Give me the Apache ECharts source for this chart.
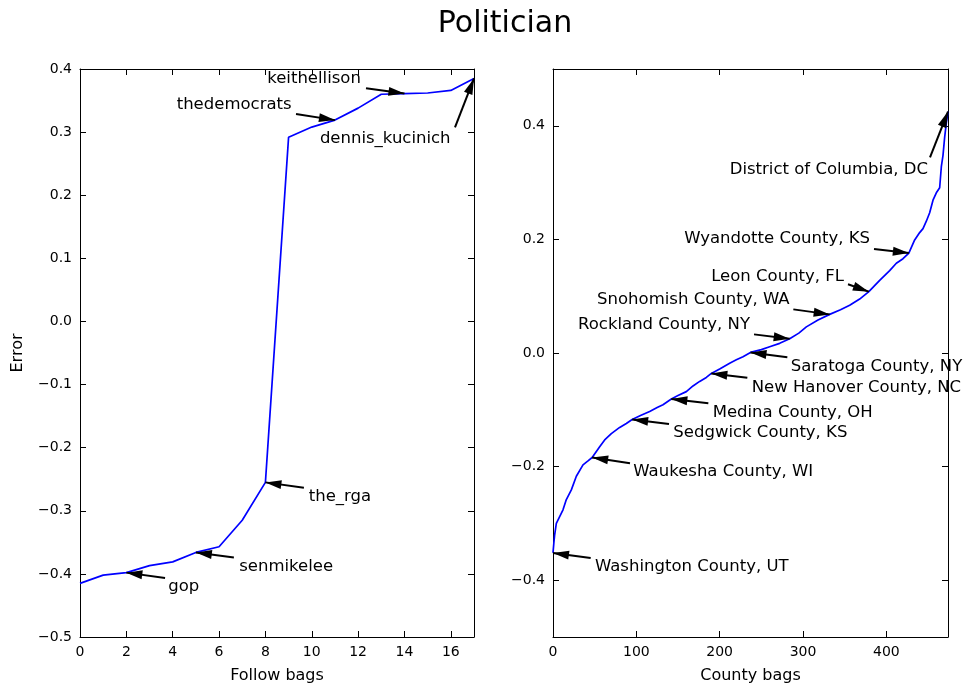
<!DOCTYPE html>
<html>
<head>
<meta charset="utf-8">
<script src="https://cdn.jsdelivr.net/npm/echarts@6/dist/echarts.min.js"></script>
<style>
  html, body { margin: 0; padding: 0; background: #fff; }
  #chart { width: 967px; height: 689px; }
</style>
</head>
<body>
<div id="chart"></div>
<script>
// Error per "follow" bag (left panel), one value per bag index
const followBags = [0, 1, 2, 3, 4, 5, 6, 7, 8, 9, 10, 11, 12, 13, 14, 15, 16, 17];
const followError = [-0.415, -0.402, -0.398, -0.387, -0.381, -0.366, -0.357, -0.315, -0.255,
                     0.292, 0.308, 0.319, 0.338, 0.360, 0.361, 0.362, 0.366, 0.385];

// Error per county bag (right panel), sorted by error
const countyRank = [0, 1, 2, 4, 8, 12, 16, 22, 28, 36, 42, 47, 56, 62, 70, 80, 88, 95, 105, 116,
                    125, 132, 142, 150, 160, 168, 176, 184, 190, 200, 212, 220, 228, 237, 250,
                    260, 272, 284, 295, 304, 318, 332, 345, 356, 368, 379, 392, 404, 412, 420,
                    427, 434, 440, 444, 448, 452, 456, 460, 464, 466, 468, 470, 472, 474];
const countyError = [-0.352, -0.335, -0.320, -0.300, -0.288, -0.276, -0.258, -0.241, -0.217,
                     -0.197, -0.190, -0.184, -0.165, -0.153, -0.142, -0.131, -0.124, -0.117,
                     -0.110, -0.103, -0.096, -0.091, -0.081, -0.075, -0.068, -0.058, -0.050,
                     -0.043, -0.036, -0.028, -0.018, -0.012, -0.0065, 0.001, 0.006, 0.011,
                     0.017, 0.025, 0.035, 0.046, 0.058, 0.068, 0.076, 0.084, 0.095, 0.108,
                     0.128, 0.145, 0.158, 0.166, 0.176, 0.199, 0.212, 0.219, 0.232, 0.247,
                     0.269, 0.282, 0.291, 0.328, 0.348, 0.380, 0.405, 0.425];

// Annotated accounts (left) and counties (right), with the index they point at
const followNames = ['gop', 'senmikelee', 'the_rga', 'thedemocrats', 'keithellison', 'dennis_kucinich'];
const followNameIndex = [2, 5, 8, 11, 14, 17];
const countyNames = ['Washington County, UT', 'Waukesha County, WI', 'Sedgwick County, KS',
                     'Medina County, OH', 'New Hanover County, NC', 'Saratoga County, NY',
                     'Rockland County, NY', 'Snohomish County, WA', 'Leon County, FL',
                     'Wyandotte County, KS', 'District of Columbia, DC'];
const countyNameRank = [0, 47, 95, 142, 190, 237, 284, 332, 379, 427, 474];

// Axis tick values
const followXTicks = [0, 2, 4, 6, 8, 10, 12, 14, 16];
const followYTicks = [-0.5, -0.4, -0.3, -0.2, -0.1, 0.0, 0.1, 0.2, 0.3, 0.4];
const countyXTicks = [0, 100, 200, 300, 400];
const countyYTicks = [-0.4, -0.2, 0.0, 0.2, 0.4];

// Placement of each annotation text and arrow tail, in data units
const followNoteLayout = [
  { text: [3.81, -0.421], tail: [3.67, -0.4065], align: 'left' },
  { text: [6.87, -0.388], tail: [6.64, -0.374], align: 'left' },
  { text: [9.87, -0.278], tail: [9.66, -0.2636], align: 'left' },
  { text: [9.13, 0.3433], tail: [9.32, 0.3287], align: 'right' },
  { text: [12.12, 0.3843], tail: [12.34, 0.3696], align: 'right' },
  { text: [10.35, 0.2897], tail: [16.18, 0.3076], align: 'left' }
];
const countyNoteLayout = [
  { text: [50.4, -0.3757], tail: [45.2, -0.361], align: 'left' },
  { text: [96.4, -0.2087], tail: [92.4, -0.194], align: 'left' },
  { text: [144.4, -0.140], tail: [139.2, -0.1248], align: 'left' },
  { text: [191.6, -0.1043], tail: [186.4, -0.0885], align: 'left' },
  { text: [238.4, -0.0604], tail: [233.2, -0.0434], align: 'left' },
  { text: [285.2, -0.024], tail: [281.2, -0.0076], align: 'left' },
  { text: [236.4, 0.0492], tail: [241.2, 0.0328], align: 'right' },
  { text: [283.9, 0.093], tail: [288.4, 0.0768], align: 'right' },
  { text: [349.2, 0.1336], tail: [354.0, 0.121], align: 'right' },
  { text: [380.4, 0.2004], tail: [385.2, 0.183], align: 'right' },
  { text: [450.0, 0.3235], tail: [452.4, 0.3446], align: 'right' }
];

const FONT = 'DejaVu Sans';
const fmt = v => v.toFixed(1).replace('-', '\u2212');
const HEAD = [9, 16];

function valueAxis(opts) {
  const base = {
    type: 'value',
    gridIndex: opts.grid,
    position: opts.position,
    min: opts.min,
    max: opts.max,
    axisLine: { show: true, onZero: false, lineStyle: { color: '#000', width: 1 } },
    axisTick: { show: true, inside: true, length: 6, lineStyle: { color: '#000', width: 1 },
                customValues: opts.ticks },
    splitLine: { show: false },
    axisLabel: {
      show: !!opts.labels,
      color: '#000',
      fontFamily: FONT,
      fontSize: 14,
      margin: 8,
      customValues: opts.ticks,
      formatter: opts.formatter || (v => String(v))
    }
  };
  if (opts.name) {
    base.name = opts.name;
    base.nameLocation = 'middle';
    base.nameGap = opts.nameGap;
    base.nameTextStyle = { color: '#000', fontFamily: FONT, fontSize: 16 };
  }
  return base;
}

function notes(names, tips, layout) {
  const lines = [];
  const texts = [];
  names.forEach((name, i) => {
    const L = layout[i];
    lines.push([{ coord: L.tail }, { coord: tips[i] }]);
    texts.push({
      coord: L.text,
      symbolSize: 0,
      label: {
        show: true,
        formatter: name,
        position: 'inside',
        align: L.align,
        verticalAlign: 'middle',
        color: '#000',
        fontFamily: FONT,
        fontSize: 16.5
      }
    });
  });
  return {
    markLine: {
      silent: true,
      symbol: ['none', 'triangle'],
      symbolSize: HEAD,
      symbolOffset: [0, [0, HEAD[1] / 2]],
      lineStyle: { color: '#000', width: 2, type: 'solid' },
      label: { show: false },
      data: lines
    },
    markPoint: { silent: true, symbol: 'circle', symbolSize: 0, data: texts }
  };
}

const followTips = followNameIndex.map(i => [followBags[i], followError[i]]);
const countyTips = countyNameRank.map(r => {
  const k = countyRank.indexOf(r);
  return [countyRank[k], countyError[k]];
});

const chart = echarts.init(document.getElementById('chart'), null, { renderer: 'canvas' });

chart.setOption({
  animation: false,
  backgroundColor: '#fff',
  title: {
    text: 'Politician',
    left: 500,
    top: 4,
    textAlign: 'center',
    textStyle: { color: '#000', fontFamily: FONT, fontSize: 30, fontWeight: 'normal' }
  },
  grid: [
    { left: 80, top: 69, width: 394, height: 571 },
    { left: 553, top: 69, width: 395, height: 571 }
  ],
  xAxis: [
    valueAxis({ grid: 0, position: 'bottom', min: 0, max: 17, ticks: followXTicks, labels: true,
                name: 'Follow bags', nameGap: 31 }),
    valueAxis({ grid: 0, position: 'top', min: 0, max: 17, ticks: followXTicks }),
    valueAxis({ grid: 1, position: 'bottom', min: 0, max: 474, ticks: countyXTicks, labels: true,
                name: 'County bags', nameGap: 31 }),
    valueAxis({ grid: 1, position: 'top', min: 0, max: 474, ticks: countyXTicks })
  ],
  yAxis: [
    valueAxis({ grid: 0, position: 'left', min: -0.5, max: 0.4, ticks: followYTicks, labels: true,
                formatter: fmt, name: 'Error', nameGap: 54 }),
    valueAxis({ grid: 0, position: 'right', min: -0.5, max: 0.4, ticks: followYTicks }),
    valueAxis({ grid: 1, position: 'left', min: -0.5, max: 0.5, ticks: countyYTicks, labels: true,
                formatter: fmt }),
    valueAxis({ grid: 1, position: 'right', min: -0.5, max: 0.5, ticks: countyYTicks })
  ],
  series: [
    Object.assign({
      type: 'line',
      xAxisIndex: 0,
      yAxisIndex: 0,
      showSymbol: false,
      lineStyle: { color: '#0000ff', width: 1.7 },
      data: followBags.map((b, i) => [b, followError[i]])
    }, notes(followNames, followTips, followNoteLayout)),
    Object.assign({
      type: 'line',
      xAxisIndex: 2,
      yAxisIndex: 2,
      showSymbol: false,
      lineStyle: { color: '#0000ff', width: 1.7 },
      data: countyRank.map((r, i) => [r, countyError[i]])
    }, notes(countyNames, countyTips, countyNoteLayout))
  ]
});
</script>
</body>
</html>
